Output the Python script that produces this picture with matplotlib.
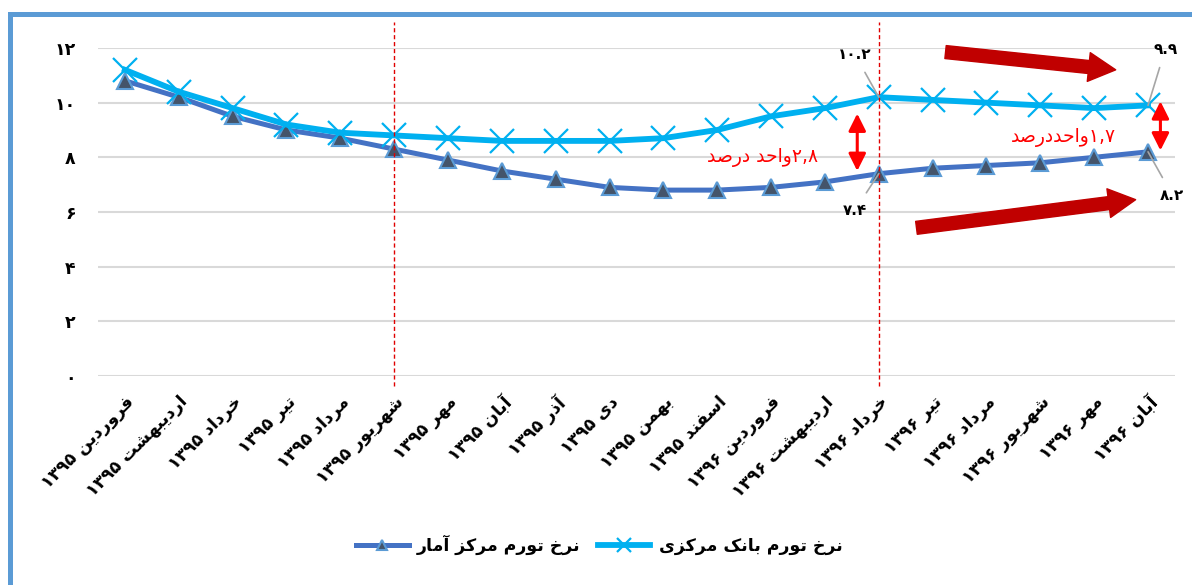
"""Inflation rate, Farvardin 1395 - Aban 1396: Statistical Centre vs Central Bank."""

import re
import unicodedata

import matplotlib
matplotlib.use("Agg")
import matplotlib.pyplot as plt
from matplotlib.patches import Rectangle
from matplotlib.ticker import FuncFormatter

plt.rcParams["font.family"] = ["DejaVu Sans"]

MONTHS = ["فروردین", "اردیبهشت", "خرداد", "تیر", "مرداد", "شهریور", "مهر",
          "آبان", "آذر", "دی", "بهمن", "اسفند",
          "فروردین", "اردیبهشت", "خرداد", "تیر", "مرداد", "شهریور", "مهر", "آبان"]
YEARS = ["1395"] * 12 + ["1396"] * 8

# نرخ تورم مرکز آمار
SCI = [10.8, 10.2, 9.5, 9.0, 8.7, 8.3, 7.9, 7.5, 7.2, 6.9, 6.8, 6.8,
       6.9, 7.1, 7.4, 7.6, 7.7, 7.8, 8.0, 8.2]
# نرخ تورم بانک مرکزی
CBI = [11.2, 10.4, 9.8, 9.2, 8.9, 8.8, 8.7, 8.6, 8.6, 8.6, 8.7, 9.0,
       9.5, 9.8, 10.2, 10.1, 10.0, 9.9, 9.8, 9.9]

SCI_NAME = "نرخ تورم مرکز آمار"
CBI_NAME = "نرخ تورم بانک مرکزی"
GAP_TEXT = ["2,8واحد درصد", "1,7واحددرصد"]
YTICKS = [0, 2, 4, 6, 8, 10, 12]
SPLIT_AT = [5, 14]           # شهریور ۹۵ and خرداد ۹۶
LABELLED = [14, 19]          # points with value labels

# ---- tiny Persian shaper (no arabic_reshaper available) ----
FORMS = {
    "\u0627": ("\uFE8D", "\uFE8E", None, None),
    "\u0622": ("\uFE81", "\uFE82", None, None),
    "\u0628": ("\uFE8F", "\uFE90", "\uFE91", "\uFE92"),
    "\u062A": ("\uFE95", "\uFE96", "\uFE97", "\uFE98"),
    "\u062D": ("\uFEA1", "\uFEA2", "\uFEA3", "\uFEA4"),
    "\u062E": ("\uFEA5", "\uFEA6", "\uFEA7", "\uFEA8"),
    "\u062F": ("\uFEA9", "\uFEAA", None, None),
    "\u0630": ("\uFEAB", "\uFEAC", None, None),
    "\u0631": ("\uFEAD", "\uFEAE", None, None),
    "\u0632": ("\uFEAF", "\uFEB0", None, None),
    "\u0633": ("\uFEB1", "\uFEB2", "\uFEB3", "\uFEB4"),
    "\u0634": ("\uFEB5", "\uFEB6", "\uFEB7", "\uFEB8"),
    "\u0635": ("\uFEB9", "\uFEBA", "\uFEBB", "\uFEBC"),
    "\u0641": ("\uFED1", "\uFED2", "\uFED3", "\uFED4"),
    "\u0645": ("\uFEE1", "\uFEE2", "\uFEE3", "\uFEE4"),
    "\u0646": ("\uFEE5", "\uFEE6", "\uFEE7", "\uFEE8"),
    "\u0647": ("\uFEE9", "\uFEEA", "\uFEEB", "\uFEEC"),
    "\u0648": ("\uFEED", "\uFEEE", None, None),
    "\u06CC": ("\uFBFC", "\uFBFD", "\uFBFE", "\uFBFF"),
    "\u06A9": ("\uFB8E", "\uFB8F", "\uFB90", "\uFB91"),
}
FA_DIGITS = str.maketrans("0123456789", "۰۱۲۳۴۵۶۷۸۹")


def fa(s):
    """Shape and reorder a Persian string for left-to-right drawing."""
    s = unicodedata.normalize("NFC", str(s)).replace("\u064A", "\u06CC").replace("\u0643", "\u06A9")
    s = s.translate(FA_DIGITS)
    out = []
    for i, c in enumerate(s):
        if c not in FORMS:
            out.append(c)
            continue
        prev = s[i - 1] if i > 0 else ""
        nxt = s[i + 1] if i + 1 < len(s) else ""
        jp = prev in FORMS and FORMS[prev][2] is not None
        jn = FORMS[c][2] is not None and nxt in FORMS
        iso, fin, ini, med = FORMS[c]
        out.append(med if jp and jn else fin if jp else ini if jn else iso)
    shaped = "".join(out)
    toks = re.findall(r"[۰-۹][۰-۹.,]*|[^۰-۹]+", shaped)
    return "".join(t if t[0] in "۰۱۲۳۴۵۶۷۸۹" else t[::-1] for t in reversed(toks))


def main():
    fig = plt.figure(figsize=(11.92, 5.85), dpi=100)
    ax = fig.add_axes([0.0822, 0.3573, 0.9035, 0.5607])
    x = list(range(len(SCI)))

    ax.plot(x, SCI, color="#4472C4", lw=3.6, marker="^", ms=11,
            mfc="#44546A", mec="#5B9BD5", mew=1.5, label=fa(SCI_NAME), zorder=3)
    ax.plot(x, CBI, color="#00B0F0", lw=4.2, marker="x", ms=17,
            mec="#00B0F0", mew=1.6, label=fa(CBI_NAME), zorder=4)

    ax.set_xlim(-0.5, len(x) - 0.5)
    ax.set_ylim(0, 12)
    ax.set_yticks(YTICKS)
    ax.yaxis.set_major_formatter(FuncFormatter(lambda v, _: fa(int(v))))
    ax.grid(axis="y", color="#D9D9D9", lw=1.5)
    ax.set_axisbelow(True)
    for sp in ax.spines.values():
        sp.set_visible(False)
    ax.tick_params(length=0)
    ax.tick_params(axis="y", pad=16, labelsize=12.5)
    for t in ax.get_yticklabels():
        t.set_fontweight("bold")

    ax.set_xticks(x)
    ax.set_xticklabels([fa(f"{m} {y}") for m, y in zip(MONTHS, YEARS)],
                       rotation=45, ha="right", va="top", rotation_mode="anchor",
                       fontsize=12.5, fontweight="bold")
    ax.tick_params(axis="x", pad=12)

    # period split lines
    for i in SPLIT_AT:
        ax.plot([i, i], [-0.35, 12.95], color="#E00000", lw=1,
                ls=(0, (3, 2)), clip_on=False, zorder=5)

    # value labels with leader lines
    offsets = {14: ((-0.44, 1.55), (-0.44, -1.33)), 19: ((0.32, 2.05), (0.45, -1.58))}
    for i in LABELLED:
        (dxc, dyc), (dxs, dys) = offsets[i]
        ax.annotate(fa(f"{CBI[i]:.1f}"), xy=(i, CBI[i]), xytext=(i + dxc, CBI[i] + dyc),
                    ha="center", va="center", fontsize=11, fontweight="bold",
                    annotation_clip=False, zorder=6,
                    arrowprops=dict(arrowstyle="-", color="#A6A6A6", lw=1.2,
                                    shrinkA=6, shrinkB=0))
        ax.annotate(fa(f"{SCI[i]:.1f}"), xy=(i, SCI[i]), xytext=(i + dxs, SCI[i] + dys),
                    ha="center", va="center", fontsize=11, fontweight="bold",
                    annotation_clip=False, zorder=6,
                    arrowprops=dict(arrowstyle="-", color="#A6A6A6", lw=1.2,
                                    shrinkA=6, shrinkB=0))

    # gap arrows and text
    red_dbl = dict(arrowstyle="<|-|>,head_length=0.8,head_width=0.4", color="#FF0000",
                   lw=2.2, mutation_scale=13, shrinkA=0, shrinkB=0)
    ax.annotate("", xy=(13.6, 7.5), xytext=(13.6, 9.6), arrowprops=red_dbl, zorder=6)
    ax.annotate("", xy=(19.23, 8.25), xytext=(19.23, 10.05), arrowprops=red_dbl,
                annotation_clip=False, zorder=6)
    ax.text(11.84, 7.98, fa(GAP_TEXT[0]), color="#FF0000", fontsize=13.5,
            ha="center", va="center", zorder=6)
    ax.text(17.43, 8.74, fa(GAP_TEXT[1]), color="#FF0000", fontsize=13.5,
            ha="center", va="center", zorder=6)

    # trend arrows
    block = dict(arrowstyle="simple,head_length=0.75,head_width=0.8,tail_width=0.36",
                 color="#C00000", mutation_scale=26, shrinkA=0, shrinkB=0)
    ax.annotate("", xy=(18.4, 11.2), xytext=(15.24, 11.85), arrowprops=block,
                annotation_clip=False, zorder=6)
    ax.annotate("", xy=(18.77, 6.45), xytext=(14.7, 5.42), arrowprops=block, zorder=6)

    fig.legend(loc="center", bbox_to_anchor=(0.503, 0.068), ncol=2,
               frameon=False, handlelength=3.0, columnspacing=1.0, markerscale=0.6,
               handletextpad=0.5, prop=dict(size=12.5, weight="bold"))

    fig.patches.append(Rectangle((0.0084, -0.1), 1.1, 1.076, transform=fig.transFigure,
                                 fill=False, ec="#5B9BD5", lw=3.6, zorder=0))
    fig.savefig("out.png", dpi=100)


if __name__ == "__main__":
    main()
